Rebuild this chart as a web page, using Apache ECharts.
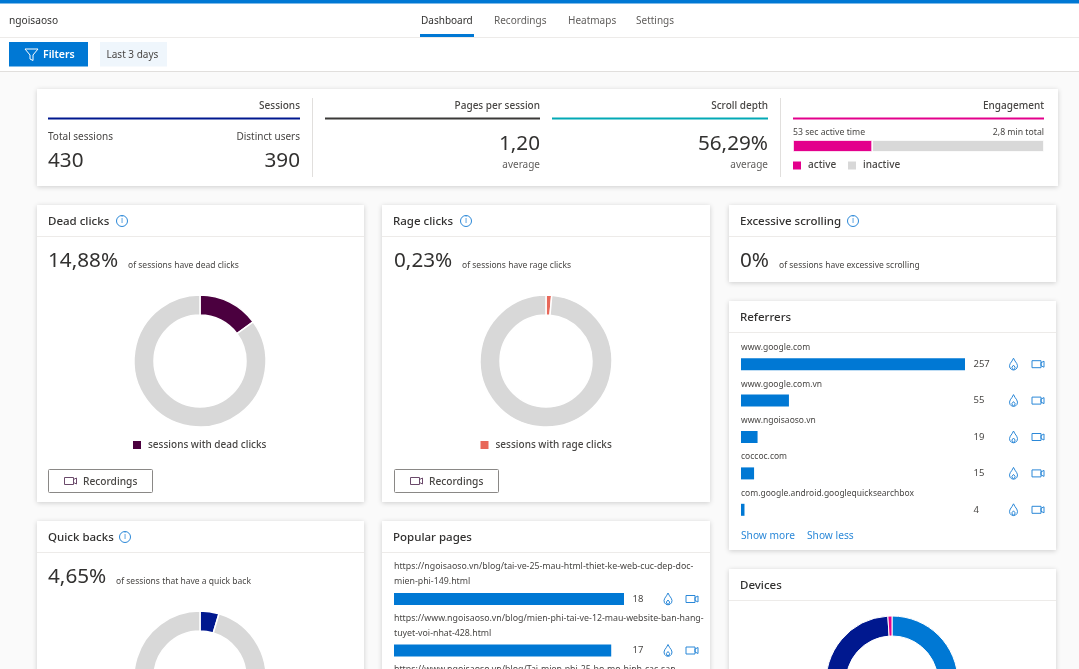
<!DOCTYPE html>
<html>
<head>
<meta charset="utf-8">
<title>Dashboard</title>
<style>
html, body { margin: 0; padding: 0; background: #fafafa; overflow: hidden; }
#main { width: 1079px; height: 669px; }
</style>
<script src="https://cdn.jsdelivr.net/npm/echarts@6/dist/echarts.min.js"></script>
</head>
<body>
<div id="main"></div>
<script>
// values
var tabs = ['Dashboard', 'Recordings', 'Heatmaps', 'Settings'];
var engagementActive = [53];
var engagementInactive = [115];
var deadClicks = [14.88, 85.12];
var rageClicks = [0.23, 99.77];
var quickBacks = [4.65, 95.35];
var referrerNames = ['www.google.com', 'www.google.com.vn', 'www.ngoisaoso.vn', 'coccoc.com', 'com.google.android.googlequicksearchbox'];
var referrerValues = [257, 55, 19, 15, 4];
var pageNames = [
  'https://ngoisaoso.vn/blog/tai-ve-25-mau-html-thiet-ke-web-cuc-dep-doc-\nmien-phi-149.html',
  'https://www.ngoisaoso.vn/blog/mien-phi-tai-ve-12-mau-website-ban-hang-\ntuyet-voi-nhat-428.html',
  'https://www.ngoisaoso.vn/blog/Tai-mien-phi-25-bo-mo-hinh-cac-san-'
];
var pageValues = [18, 17, 15];
var deviceNames = ['PC', 'Mobile', 'Tablet'];
var deviceValues = [61, 38, 1];

var font = '"Noto Sans", sans-serif';
var dark = '#323130';
var mid = '#484644';
var blue = '#0078d4';
var gray = '#d8d8d8';

var chart = echarts.init(document.getElementById('main'));
var g = [];

function box(x, y, w, h, fill, shadow) {
  var s = { fill: fill };
  if (shadow) {
    s.shadowBlur = 5;
    s.shadowOffsetY = 1;
    s.shadowColor = 'rgba(0,0,0,0.18)';
  }
  g.push({ type: 'rect', z: shadow ? 0 : 1, shape: { x: x, y: y, width: w, height: h }, style: s, silent: true });
}
function txt(x, y, s, size, color, align, weight) {
  g.push({
    type: 'text', z: 3, x: x, y: y + 1, silent: true,
    style: { text: s, font: (weight || 400) + ' ' + size + 'px ' + font, fill: color || dark, textAlign: align || 'left', textVerticalAlign: 'middle' }
  });
}
function poly(points, x, y, color) {
  g.push({
    type: 'polygon', z: 3, silent: true,
    shape: { points: points.map(function (p) { return [p[0] + x, p[1] + y]; }) },
    style: { fill: 'none', stroke: color, lineWidth: 1 }
  });
}
function camera(x, y, color) {
  poly([[0, -3.5], [9, -3.5], [9, 3.5], [0, 3.5]], x, y, color);
  poly([[9, -1.5], [12, -3], [12, 3], [9, 1.5]], x, y, color);
}
function flame(x, y) {
  poly([[0, -6], [1.5, -3.2], [3.2, -0.8], [4, 1.5], [3.5, 3.8], [2, 5.3], [0, 5.8], [-2, 5.3], [-3.5, 3.8], [-4, 1.5], [-3.2, -0.8], [-1.5, -3.2]], x, y, '#2b88d8');
  poly([[0, 1], [1.6, 3], [1.2, 4.6], [0, 5.2], [-1.2, 4.6], [-1.6, 3]], x, y, '#2b88d8');
}
function info(x, y) {
  g.push({ type: 'circle', z: 3, silent: true, shape: { cx: x, cy: y, r: 5.5 }, style: { fill: 'none', stroke: '#2b88d8', lineWidth: 1 } });
  txt(x, y - 1, 'i', 8, '#2b88d8', 'center');
}
function card(x, y, w, h, title, hasInfo, infoX) {
  box(x, y, w, h, '#fff', true);
  box(x, y + 31, w, 1, '#edebe9');
  txt(x + 11, y + 15.5, title, 11.5, dark, 'left', 500);
  if (hasInfo) info(infoX, y + 16);
}

// page chrome
box(0, 0, 1079, 71, '#fff');
box(0, 0, 1079, 3.5, blue);
box(0, 37, 1079, 1, '#edebe9');
box(0, 71, 1079, 1, '#e1dfdd');
txt(9, 20.5, 'ngoisaoso', 10.2, dark);
var tabX = [421, 494, 568, 636];
tabs.forEach(function (name, i) {
  txt(tabX[i], 20.5, name, 10, i === 0 ? dark : '#605e5c');
});
box(420, 34, 54, 3, blue);
box(9, 42, 79, 24.5, blue);
poly([[0, 0], [13, 0], [8, 6], [8, 11.5], [5, 10], [5, 6]], 25, 49, '#fff');
txt(43, 54, 'Filters', 10.5, '#fff', 'left', 600);
box(100, 42, 67, 24.5, '#eff6fc');
txt(106.5, 54, 'Last 3 days', 10, mid);

// top summary card
box(37, 89, 1021, 97, '#fff', true);
box(312, 98, 1, 79, '#e1dfdd');
box(780, 98, 1, 79, '#e1dfdd');
box(48, 117.5, 252, 2, '#00188f');
box(325, 117.5, 215, 2, '#3b3a39');
box(552, 117.5, 216, 2, '#03a9b5');
box(793, 117.5, 251, 2, '#e3008c');
txt(300, 105, 'Sessions', 10, mid, 'right', 500);
txt(540, 105, 'Pages per session', 10, mid, 'right', 500);
txt(768, 105, 'Scroll depth', 10, mid, 'right', 500);
txt(1044, 105, 'Engagement', 10, mid, 'right', 500);
txt(48, 136, 'Total sessions', 10, mid);
txt(300, 136, 'Distinct users', 10, mid, 'right');
txt(48, 160, '430', 20.7, dark);
txt(300, 160, '390', 20.7, dark, 'right');
txt(540, 143, '1,20', 20.7, dark, 'right');
txt(540, 164, 'average', 10, '#605e5c', 'right');
txt(768, 143, '56,29%', 20.7, dark, 'right');
txt(768, 164, 'average', 10, '#605e5c', 'right');
txt(793, 132, '53 sec active time', 8.7, mid);
txt(1044, 132, '2,8 min total', 8.7, mid, 'right');

// metric cards
card(37, 205, 327, 297, 'Dead clicks', true, 122);
txt(48, 260.5, '14,88%', 20.7, dark);
txt(128, 265, 'of sessions have dead clicks', 8.5, mid);
card(382, 205, 328, 297, 'Rage clicks', true, 466);
txt(394, 260.5, '0,23%', 20.7, dark);
txt(462, 265, 'of sessions have rage clicks', 8.5, mid);
card(729, 205, 327, 77, 'Excessive scrolling', true, 853);
txt(740, 260.5, '0%', 20.7, dark);
txt(779, 265, 'of sessions have excessive scrolling', 8.5, mid);
card(729, 301, 327, 249, 'Referrers', false);
txt(741, 535, 'Show more', 10.2, '#2b88d8');
txt(807, 535, 'Show less', 10.2, '#2b88d8');
card(729, 569, 327, 130, 'Devices', false);
card(37, 521, 327, 178, 'Quick backs', true, 125);
txt(48, 576.5, '4,65%', 20.7, dark);
txt(116, 581, 'of sessions that have a quick back', 8.5, mid);
card(382, 521, 328, 178, 'Popular pages', false);

// Recordings buttons
[48.5, 394.5].forEach(function (x) {
  g.push({
    type: 'rect', z: 2, silent: true,
    shape: { x: x, y: 469.5, width: 104, height: 23, r: 1 },
    style: { fill: '#fff', stroke: '#8a8886', lineWidth: 1 }
  });
  camera(x + 16, 481, '#6b4a6b');
  txt(x + 34.5, 481, 'Recordings', 10.2, mid, 'left', 500);
});

// row icons follow the bar rows
referrerValues.forEach(function (v, i) {
  var y = 364.2 + 36.4 * i;
  flame(1013.5, y);
  camera(1032, y, '#2b88d8');
});
pageValues.forEach(function (v, i) {
  var y = 599 + 51.5 * i;
  flame(668, y);
  camera(686, y, '#2b88d8');
});

function donut(name, values, color, cx, cy) {
  return {
    type: 'pie', silent: true, animation: false,
    center: [cx, cy], radius: [46, 66], startAngle: 90, minAngle: 5, clockwise: true,
    label: { show: false }, labelLine: { show: false },
    itemStyle: { borderColor: '#fff', borderWidth: 1.5 },
    data: [
      { name: name, value: values[0], itemStyle: { color: color } },
      { name: name + ' (rest)', value: values[1], itemStyle: { color: gray } }
    ]
  };
}

function legendAt(name, left, top) {
  return {
    data: [name], left: left, top: top, padding: 0, itemWidth: 10, itemHeight: 10, itemGap: 12,
    icon: 'rect', selectedMode: false,
    textStyle: { fontFamily: font, fontSize: 10, fontWeight: 500, color: mid, padding: [0, 0, 0, 1] }
  };
}

function rowAxisLabel() {
  return { color: mid, fontFamily: font, fontSize: 9.5, margin: 8.5 };
}

chart.setOption({
  animation: false,
  backgroundColor: '#fafafa',
  graphic: { elements: g },
  legend: [
    legendAt('active', 791, 159.5),
    legendAt('inactive', 846, 159.5),
    legendAt('sessions with dead clicks', 131, 439),
    legendAt('sessions with rage clicks', 478.5, 439)
  ],
  grid: [
    { left: 793, top: 140, width: 251, height: 12, outerBoundsMode: 'none' },
    { left: 741, top: 346, width: 224, height: 182, outerBoundsMode: 'none' },
    { left: 394, top: 573.25, width: 230, height: 154.5, outerBoundsMode: 'none' }
  ],
  xAxis: [
    { gridIndex: 0, type: 'value', min: 0, max: 168, show: false },
    { gridIndex: 1, type: 'value', min: 0, max: 257, show: false },
    { gridIndex: 2, type: 'value', min: 0, max: 18, show: false }
  ],
  yAxis: [
    { gridIndex: 0, type: 'category', data: ['time'], show: false },
    { gridIndex: 1, type: 'category', inverse: true, data: referrerNames, show: false },
    {
      gridIndex: 1, type: 'category', inverse: true, position: 'right', data: referrerValues,
      axisLine: { show: false }, axisTick: { show: false }, axisLabel: rowAxisLabel()
    },
    { gridIndex: 2, type: 'category', inverse: true, data: pageNames, show: false },
    {
      gridIndex: 2, type: 'category', inverse: true, position: 'right', data: pageValues,
      axisLine: { show: false }, axisTick: { show: false }, axisLabel: rowAxisLabel()
    }
  ],
  series: [
    {
      type: 'bar', name: 'active', stack: 'engagement', xAxisIndex: 0, yAxisIndex: 0, silent: true,
      barWidth: 12, data: engagementActive, itemStyle: { color: '#e3008c', borderColor: '#fff', borderWidth: 0.8 }
    },
    {
      type: 'bar', name: 'inactive', stack: 'engagement', xAxisIndex: 0, yAxisIndex: 0, silent: true,
      barWidth: 12, data: engagementInactive, itemStyle: { color: gray, borderColor: '#fff', borderWidth: 0.8 }
    },
    {
      type: 'bar', xAxisIndex: 1, yAxisIndex: 1, silent: true, barWidth: 12,
      data: referrerValues, itemStyle: { color: blue },
      label: {
        show: true, position: [0, -15], color: mid, fontFamily: font, fontSize: 8.5,
        formatter: function (p) { return p.name; }
      }
    },
    {
      type: 'bar', xAxisIndex: 2, yAxisIndex: 3, silent: true, barWidth: 12,
      data: pageValues, itemStyle: { color: blue },
      label: {
        show: true, position: [0, -34], color: mid, fontFamily: font, fontSize: 8.8, lineHeight: 15,
        formatter: function (p) { return p.name; }
      }
    },
    donut('sessions with dead clicks', deadClicks, '#4b003f', 200, 361),
    donut('sessions with rage clicks', rageClicks, '#e8685a', 546, 361),
    donut('sessions that have a quick back', quickBacks, '#00188f', 200, 677),
    {
      type: 'pie', silent: true, center: [892, 682], radius: [46, 66], startAngle: 90,
      label: { show: false }, labelLine: { show: false },
      itemStyle: { borderColor: '#fff', borderWidth: 1 },
      data: deviceNames.map(function (n, i) {
        return { name: n, value: deviceValues[i], itemStyle: { color: [blue, '#00188f', '#e3008c'][i] } };
      })
    }
  ]
});
</script>
</body>
</html>
